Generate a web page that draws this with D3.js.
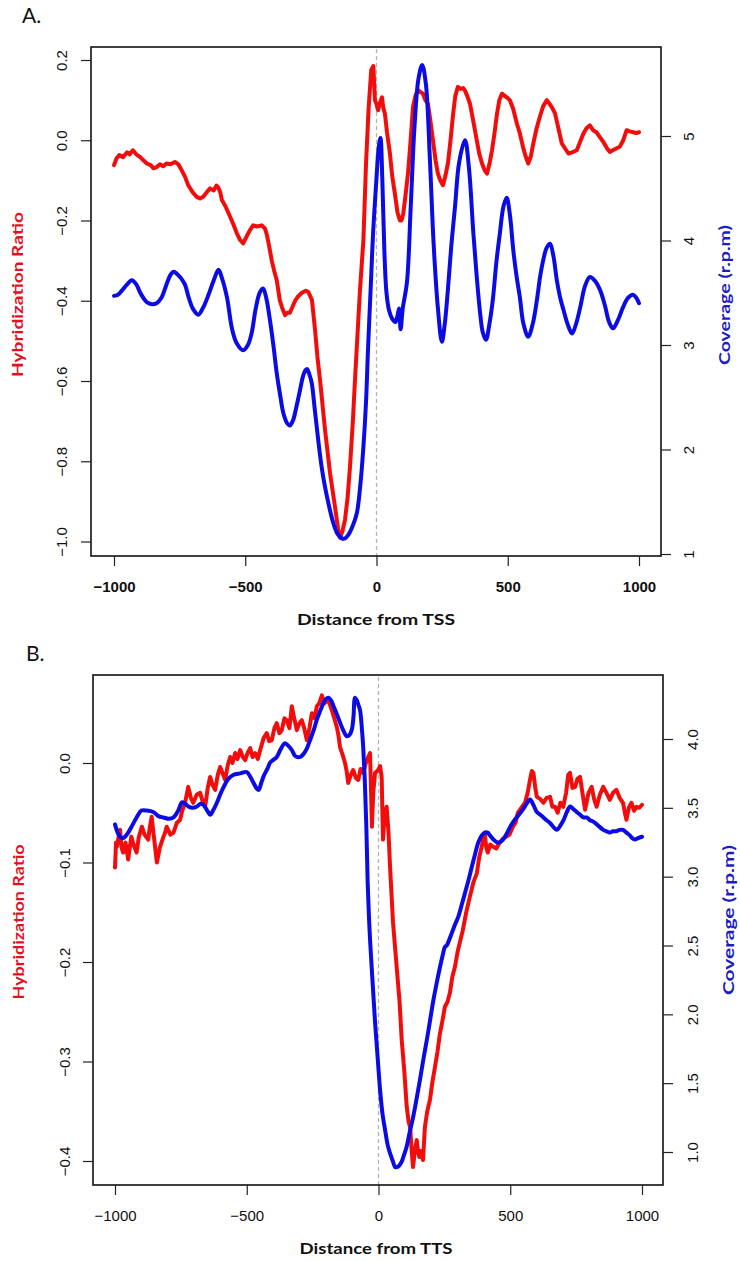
<!DOCTYPE html>
<html>
<head>
<meta charset="utf-8">
<script src="https://cdn.jsdelivr.net/npm/d3@7"></script>
<style>
  html, body { margin: 0; padding: 0; background: #fff; }
  svg { display: block; }
</style>
</head>
<body>
<script>
// ---------- Data ----------
const distTicks = [-1000, -500, 0, 500, 1000];

// Panel A: around the TSS
const tssRatioX = [-1000,-990,-980,-965,-950,-940,-928,-915,-900,-888,-875,-860,-850,-838,-825,-812,-800,-785,-768,-755,-742,-730,-717,-700,-685,-672,-660,-645,-634,-620,-610,-603,-595,-589,-575,-558,-545,-532,-520,-508,-495,-482,-470,-455,-437,-425,-419,-410,-399,-390,-380,-368,-358,-348,-340,-330,-320,-310,-300,-284,-270,-260,-246,-234,-225,-215,-196,-177,-158,-145,-139,-130,-120,-110,-101,-90,-82,-72,-63,-50,-40,-30,-20,-12,-6,0,6,14,21,26,32,40,51,60,70,80,89,95,102,110,120,130,139,148,158,168,177,186,196,205,215,225,234,243,253,262,272,282,292,300,310,320,330,337,346,356,368,382,392,402,412,421,430,440,450,459,468,478,490,500,508,520,535,545,558,568,578,588,597,610,622,635,649,660,670,680,693,706,718,731,745,763,775,788,800,813,825,838,851,865,878,889,900,915,927,940,953,965,978,990,1000];
const tssRatio = [-0.062,-0.045,-0.037,-0.042,-0.03,-0.035,-0.025,-0.035,-0.042,-0.05,-0.058,-0.062,-0.07,-0.067,-0.06,-0.065,-0.058,-0.06,-0.054,-0.06,-0.075,-0.09,-0.112,-0.13,-0.141,-0.145,-0.141,-0.128,-0.12,-0.125,-0.113,-0.117,-0.13,-0.149,-0.165,-0.19,-0.21,-0.232,-0.248,-0.257,-0.24,-0.224,-0.212,-0.215,-0.212,-0.22,-0.232,-0.26,-0.3,-0.325,-0.349,-0.4,-0.42,-0.436,-0.43,-0.43,-0.415,-0.4,-0.39,-0.38,-0.375,-0.378,-0.398,-0.473,-0.54,-0.598,-0.722,-0.83,-0.914,-0.975,-0.99,-0.975,-0.946,-0.89,-0.814,-0.7,-0.598,-0.48,-0.374,-0.25,-0.06,0.08,0.175,0.185,0.1,0.09,0.075,0.095,0.107,0.08,0.067,0.02,-0.032,-0.09,-0.133,-0.18,-0.2,-0.2,-0.183,-0.14,-0.083,0.0,0.083,0.11,0.125,0.12,0.116,0.1,0.091,0.05,0.0,-0.05,-0.083,-0.1,-0.112,-0.09,-0.058,0.0,0.066,0.11,0.133,0.128,0.13,0.124,0.11,0.091,0.05,0.0,-0.035,-0.058,-0.075,-0.083,-0.06,-0.025,0.02,0.066,0.1,0.116,0.11,0.105,0.1,0.08,0.041,0.02,-0.016,-0.04,-0.058,-0.04,-0.009,0.03,0.058,0.085,0.1,0.09,0.08,0.067,0.03,-0.008,-0.02,-0.033,-0.03,-0.025,-0.005,0.016,0.03,0.037,0.025,0.02,0.008,-0.005,-0.02,-0.029,-0.025,-0.02,-0.016,0.0,0.025,0.022,0.02,0.018,0.02];

const tssCoverageX = [-1000,-985,-970,-950,-932,-915,-900,-888,-875,-855,-838,-820,-800,-785,-772,-760,-745,-730,-715,-700,-679,-660,-640,-620,-602,-590,-570,-550,-533,-508,-490,-476,-460,-445,-432,-420,-406,-392,-380,-367,-355,-340,-330,-318,-305,-292,-280,-270,-264,-256,-247,-235,-222,-210,-196,-180,-165,-150,-132,-120,-108,-92,-75,-62,-50,-40,-32,-22,-13,0,8,15,22,30,38,48,60,72,80,86,92,100,116,130,145,160,174,188,203,218,234,249,260,272,285,299,315,337,352,369,382,395,405,417,430,443,457,470,484,496,508,521,534,546,560,578,595,611,623,635,648,661,674,687,700,713,728,745,760,776,795,813,830,851,870,886,901,920,939,958,977,990,1000];
const tssCoverage = [3.47,3.48,3.52,3.58,3.62,3.58,3.5,3.45,3.41,3.39,3.4,3.45,3.58,3.67,3.7,3.68,3.64,3.58,3.45,3.35,3.29,3.36,3.48,3.62,3.72,3.65,3.46,3.15,3.02,2.95,3.0,3.11,3.35,3.5,3.54,3.45,3.24,2.98,2.73,2.52,2.35,2.25,2.23,2.28,2.41,2.56,2.7,2.76,2.77,2.72,2.64,2.38,2.09,1.85,1.64,1.45,1.3,1.2,1.15,1.15,1.18,1.26,1.39,1.65,2.02,2.45,2.98,3.55,4.07,4.6,4.88,4.98,4.6,3.9,3.5,3.33,3.25,3.22,3.28,3.35,3.15,3.35,3.6,4.3,5.1,5.55,5.68,5.5,4.8,3.95,3.35,3.03,3.2,3.53,3.95,4.32,4.75,4.96,4.7,4.07,3.65,3.3,3.12,3.05,3.2,3.43,3.8,4.07,4.33,4.41,4.25,3.91,3.65,3.46,3.2,3.08,3.2,3.43,3.65,3.81,3.93,3.97,3.85,3.62,3.45,3.33,3.2,3.11,3.2,3.36,3.57,3.65,3.62,3.53,3.38,3.22,3.16,3.24,3.36,3.45,3.48,3.45,3.4];

const tssRatioTicks = [-1.0, -0.8, -0.6, -0.4, -0.2, 0.0, 0.2];
const tssCoverageTicks = [1, 2, 3, 4, 5];

// Panel B: around the TTS
const ttsRatioX = [-1000,-996,-993,-987,-981,-975,-969,-960,-950,-944,-938,-930,-918,-910,-898,-888,-874,-868,-861,-852,-841,-830,-816,-810,-804,-790,-778,-765,-753,-745,-734,-722,-712,-703,-690,-677,-668,-658,-648,-639,-630,-620,-610,-601,-592,-582,-572,-563,-554,-544,-535,-525,-515,-506,-497,-487,-478,-468,-458,-449,-436,-424,-415,-405,-395,-386,-376,-367,-357,-348,-338,-329,-320,-310,-300,-291,-282,-272,-262,-253,-243,-234,-225,-215,-205,-196,-186,-177,-168,-158,-152,-146,-136,-127,-121,-115,-105,-96,-86,-77,-68,-58,-48,-39,-32,-28,-25,-20,-13,-1,6,12,17,24,31,38,44,55,69,80,88,98,107,114,120,126,131,138,145,150,155,162,169,176,185,195,205,214,224,233,242,252,262,271,280,290,300,309,320,333,347,360,373,382,392,398,403,409,415,424,434,447,460,472,485,497,510,520,529,542,556,566,575,582,588,595,601,613,626,638,651,660,670,680,690,701,712,720,727,736,746,755,765,774,784,797,809,818,828,840,853,865,878,890,903,915,928,935,941,950,960,970,979,990,1000];
const ttsRatio = [-0.105,-0.08,-0.084,-0.075,-0.067,-0.085,-0.09,-0.08,-0.097,-0.085,-0.074,-0.082,-0.09,-0.075,-0.064,-0.072,-0.077,-0.065,-0.054,-0.075,-0.1,-0.085,-0.074,-0.07,-0.064,-0.072,-0.07,-0.06,-0.057,-0.048,-0.04,-0.024,-0.035,-0.04,-0.032,-0.03,-0.038,-0.044,-0.025,-0.014,-0.022,-0.027,-0.012,-0.004,-0.01,-0.017,-0.002,0.006,0.0,0.01,0.004,0.013,0.006,0.003,0.01,0.015,0.006,0.01,0.004,0.013,0.025,0.03,0.022,0.023,0.035,0.04,0.03,0.033,0.045,0.043,0.035,0.057,0.045,0.033,0.04,0.043,0.035,0.023,0.035,0.05,0.045,0.057,0.06,0.068,0.06,0.063,0.06,0.053,0.045,0.036,0.028,0.016,0.008,0.0,-0.008,-0.02,-0.012,-0.007,-0.015,-0.017,-0.006,-0.01,0.0,0.006,0.01,-0.03,-0.064,-0.03,-0.01,-0.007,-0.003,-0.014,-0.077,-0.05,-0.044,-0.07,-0.105,-0.16,-0.205,-0.24,-0.278,-0.31,-0.345,-0.36,-0.366,-0.39,-0.406,-0.39,-0.379,-0.39,-0.396,-0.39,-0.399,-0.366,-0.35,-0.339,-0.32,-0.306,-0.29,-0.272,-0.26,-0.245,-0.24,-0.231,-0.215,-0.205,-0.19,-0.18,-0.168,-0.15,-0.134,-0.12,-0.111,-0.095,-0.084,-0.075,-0.07,-0.085,-0.09,-0.082,-0.084,-0.086,-0.08,-0.076,-0.074,-0.072,-0.064,-0.06,-0.05,-0.045,-0.04,-0.03,-0.017,-0.008,-0.01,-0.025,-0.034,-0.036,-0.04,-0.035,-0.034,-0.044,-0.044,-0.05,-0.04,-0.044,-0.03,-0.012,-0.01,-0.025,-0.024,-0.016,-0.014,-0.03,-0.047,-0.03,-0.024,-0.036,-0.044,-0.032,-0.024,-0.03,-0.037,-0.03,-0.027,-0.035,-0.04,-0.05,-0.057,-0.045,-0.04,-0.048,-0.044,-0.045,-0.042];

const ttsCoverageX = [-1000,-990,-981,-970,-962,-950,-938,-918,-900,-880,-855,-835,-816,-795,-778,-760,-746,-734,-722,-705,-689,-675,-664,-650,-639,-628,-615,-600,-588,-570,-550,-525,-500,-485,-474,-462,-455,-445,-436,-420,-411,-398,-386,-370,-355,-342,-329,-318,-310,-297,-285,-272,-260,-245,-234,-220,-209,-200,-190,-180,-171,-158,-146,-133,-120,-110,-101,-95,-89,-82,-75,-70,-62,-58,-52,-46,-41,-36,-32,-22,-13,-3,6,15,25,35,44,55,63,69,78,88,97,107,118,131,144,157,170,183,196,208,220,233,245,252,259,268,278,290,303,315,328,341,354,366,379,392,404,414,423,436,449,461,473,486,499,512,524,537,549,562,575,588,601,614,626,638,651,664,677,690,702,715,727,740,752,765,778,790,803,815,828,840,853,865,878,890,903,915,928,941,954,963,973,985,1000];
const ttsCoverage = [3.38,3.32,3.29,3.28,3.29,3.32,3.36,3.43,3.48,3.48,3.47,3.44,3.43,3.42,3.43,3.48,3.54,3.53,3.51,3.5,3.51,3.53,3.52,3.48,3.45,3.48,3.53,3.6,3.65,3.71,3.74,3.75,3.76,3.72,3.68,3.64,3.63,3.68,3.73,3.79,3.83,3.85,3.87,3.93,3.97,3.95,3.92,3.88,3.87,3.87,3.89,3.93,3.99,4.07,4.14,4.21,4.26,4.29,4.3,4.28,4.24,4.18,4.12,4.06,4.02,4.03,4.07,4.16,4.3,4.28,4.24,4.21,4.05,3.94,3.7,3.35,2.95,2.7,2.54,2.22,1.94,1.68,1.45,1.28,1.16,1.05,0.99,0.93,0.89,0.89,0.9,0.93,0.98,1.04,1.14,1.25,1.38,1.52,1.67,1.81,1.96,2.1,2.22,2.34,2.44,2.49,2.5,2.54,2.59,2.65,2.71,2.79,2.88,2.97,3.07,3.16,3.25,3.3,3.32,3.32,3.3,3.27,3.25,3.25,3.27,3.31,3.36,3.4,3.43,3.46,3.49,3.53,3.56,3.52,3.47,3.45,3.43,3.41,3.39,3.36,3.34,3.37,3.41,3.47,3.51,3.49,3.47,3.45,3.43,3.43,3.41,3.4,3.38,3.36,3.34,3.33,3.32,3.33,3.33,3.34,3.34,3.32,3.3,3.28,3.27,3.28,3.29];

const ttsRatioTicks = [-0.4, -0.3, -0.2, -0.1, 0.0];
const ttsCoverageTicks = [1.0, 1.5, 2.0, 2.5, 3.0, 3.5, 4.0];

// ---------- Drawing ----------
const RED = "#f20d0d", BLUE = "#0b0be6";
const RED_LABEL = "#e3101f", BLUE_LABEL = "#1c1cc4";
const tickFont = "'Liberation Sans', Arial, Helvetica, sans-serif";
const titleFont = "Lato, 'Open Sans', sans-serif";

const svg = d3.select("body").append("svg")
  .attr("width", 740).attr("height", 1261)
  .style("background", "#fff");

function drawPanel(p) {
  const g = svg.append("g");
  const [bx0, by0, bx1, by1] = p.box;

  const x = d3.scaleLinear().domain([-1000, 1000]).range(p.xRange);
  const yL = d3.scaleLinear().domain(p.leftDomain).range(p.leftRange);
  const yR = d3.scaleLinear().domain(p.rightDomain).range(p.rightRange);

  // dashed marker at distance 0
  g.append("line")
    .attr("x1", x(0)).attr("x2", x(0))
    .attr("y1", by0 + 2).attr("y2", by1)
    .attr("stroke", "#b4b4b4").attr("stroke-width", 1.3)
    .attr("stroke-dasharray", "4,3");

  // hybridization ratio (left axis)
  const redLine = d3.line()
    .x(d => x(d[0])).y(d => yL(d[1]))
    .curve(d3.curveLinear);
  g.append("path")
    .datum(d3.zip(p.ratioX, p.ratio))
    .attr("d", redLine)
    .attr("fill", "none").attr("stroke", RED)
    .attr("stroke-width", 4).attr("stroke-linejoin", "round").attr("stroke-linecap", "round");

  // coverage (right axis)
  const blueLine = d3.line()
    .x(d => x(d[0])).y(d => yR(d[1]))
    .curve(d3.curveCatmullRom.alpha(0.5));
  g.append("path")
    .datum(d3.zip(p.coverageX, p.coverage))
    .attr("d", blueLine)
    .attr("fill", "none").attr("stroke", BLUE)
    .attr("stroke-width", 4).attr("stroke-linejoin", "round").attr("stroke-linecap", "round");

  // frame
  g.append("rect")
    .attr("x", bx0).attr("y", by0)
    .attr("width", bx1 - bx0).attr("height", by1 - by0)
    .attr("fill", "none").attr("stroke", "#111").attr("stroke-width", 1.6);

  // bottom axis
  g.append("g")
    .attr("transform", `translate(0,${by1})`)
    .call(d3.axisBottom(x).tickValues(distTicks).tickSize(10).tickFormat(d3.format("d")))
    .call(a => a.select(".domain").remove())
    .call(a => a.selectAll(".tick line").attr("stroke", "#222").attr("stroke-width", 1.2))
    .call(a => a.selectAll("text")
      .attr("y", 31).attr("dy", "0.36em")
      .attr("fill", "#111")
      .style("font-family", tickFont).style("font-size", "15px")
      .style("font-weight", p.boldX ? "bold" : "normal"));

  // left axis, labels turned to read upward
  g.append("g")
    .attr("transform", `translate(${bx0},0)`)
    .call(d3.axisLeft(yL).tickValues(p.leftTicks).tickSize(10).tickFormat(d3.format(".1f")))
    .call(a => a.select(".domain").remove())
    .call(a => a.selectAll(".tick line").attr("stroke", "#222").attr("stroke-width", 1.2))
    .call(a => a.selectAll("text")
      .attr("transform", "rotate(-90)")
      .attr("x", 0).attr("y", p.leftLabelY).attr("dy", 0)
      .attr("text-anchor", "middle").attr("fill", "#111")
      .style("font-family", tickFont).style("font-size", "15px"));

  // right axis
  g.append("g")
    .attr("transform", `translate(${bx1},0)`)
    .call(d3.axisRight(yR).tickValues(p.rightTicks).tickSize(10).tickFormat(d3.format(p.rightFormat)))
    .call(a => a.select(".domain").remove())
    .call(a => a.selectAll(".tick line").attr("stroke", "#222").attr("stroke-width", 1.2))
    .call(a => a.selectAll("text")
      .attr("transform", "rotate(-90)")
      .attr("x", 0).attr("y", p.rightLabelY).attr("dy", 0)
      .attr("text-anchor", "middle").attr("fill", "#111")
      .style("font-family", tickFont).style("font-size", "15px"));

  // axis titles
  const title = (tx, ty, str, color, len, rot) => {
    g.append("text")
      .attr("transform", `translate(${tx},${ty})` + (rot ? " rotate(-90)" : ""))
      .attr("text-anchor", "middle").attr("dominant-baseline", "central")
      .attr("textLength", len).attr("lengthAdjust", "spacingAndGlyphs")
      .attr("fill", color)
      .style("font-family", titleFont).style("font-weight", "bold").style("font-size", "15.5px")
      .text(str);
  };
  title(p.leftTitle[0], p.leftTitle[1], "Hybridization Ratio", RED_LABEL, p.leftTitle[2], true);
  title(p.rightTitle[0], p.rightTitle[1], "Coverage (r.p.m)", BLUE_LABEL, p.rightTitle[2], true);
  title(p.xTitle[0], p.xTitle[1], p.xTitleText, "#111", p.xTitle[2], false);

  // panel letter
  g.append("text")
    .attr("x", p.letter[0]).attr("y", p.letter[1])
    .attr("fill", "#111")
    .style("font-family", titleFont).style("font-size", "21px")
    .text(p.letterText);
}

drawPanel({
  box: [91, 47, 661, 556],
  xRange: [114, 639],
  leftDomain: [-1, 0.2], leftRange: [541.5, 60],
  rightDomain: [1, 5], rightRange: [554, 136],
  leftTicks: tssRatioTicks, rightTicks: tssCoverageTicks, rightFormat: "d",
  ratioX: tssRatioX, ratio: tssRatio,
  coverageX: tssCoverageX, coverage: tssCoverage,
  boldX: true,
  leftLabelY: -24, rightLabelY: 32.5,
  leftTitle: [17, 294.5, 165], rightTitle: [724, 295, 140],
  xTitle: [376, 619, 158], xTitleText: "Distance from TSS",
  letter: [22, 23], letterText: "A."
});

drawPanel({
  box: [93, 675, 663, 1185],
  xRange: [115, 642],
  leftDomain: [-0.4, 0], leftRange: [1161, 763],
  rightDomain: [1, 4], rightRange: [1152, 739],
  leftTicks: ttsRatioTicks, rightTicks: ttsCoverageTicks, rightFormat: ".1f",
  ratioX: ttsRatioX, ratio: ttsRatio,
  coverageX: ttsCoverageX, coverage: ttsCoverage,
  boldX: false,
  leftLabelY: -23.5, rightLabelY: 34.5,
  leftTitle: [18, 922, 155], rightTitle: [728, 920, 150],
  xTitle: [376, 1248, 153], xTitleText: "Distance from TTS",
  letter: [26, 661], letterText: "B."
});
</script>
</body>
</html>
